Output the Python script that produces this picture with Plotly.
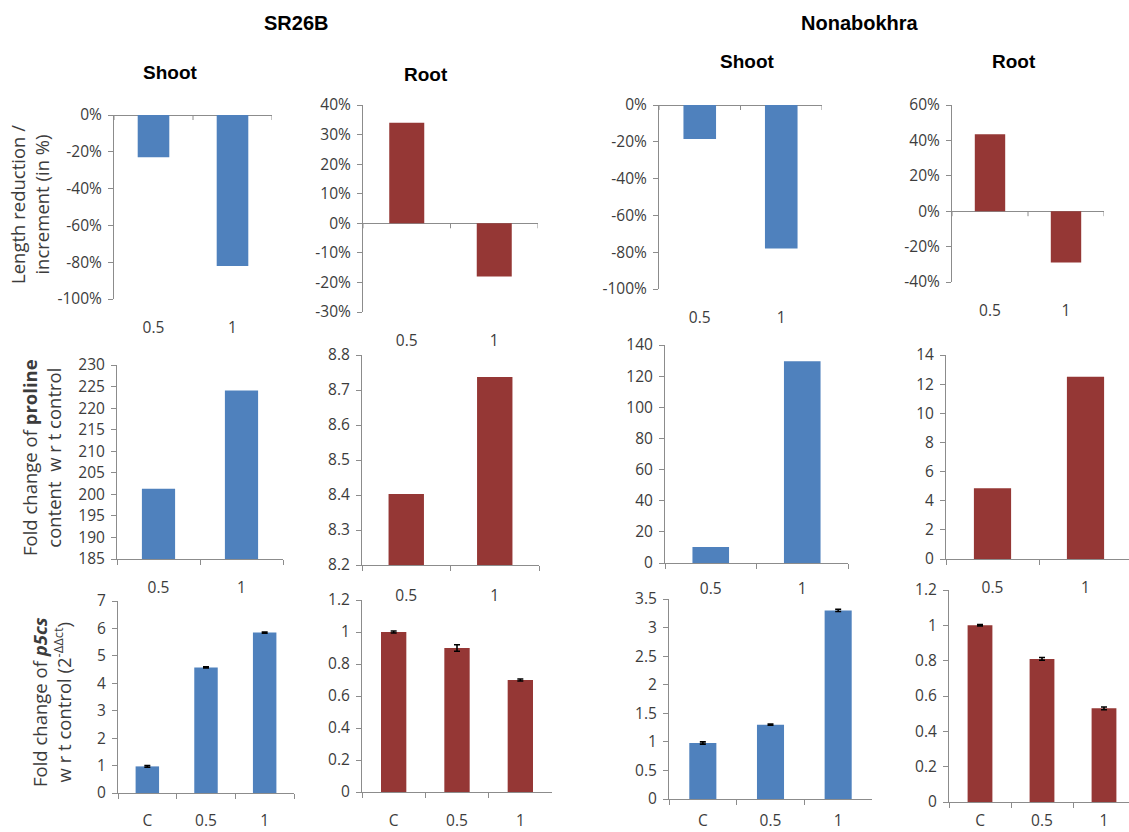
import plotly.graph_objects as go

W, H = 1129, 832

# ---- categories ----
dose = ["0.5", "1"]
dose_c = ["C", "0.5", "1"]

# ---- row 1: length reduction / increment (%) ----
sr_shoot_len = [-23, -82]
sr_root_len = [34, -18]
nb_shoot_len = [-18.5, -78]
nb_root_len = [43.5, -29]

# ---- row 2: fold change of proline content ----
sr_shoot_pro = [201.3, 224.1]
sr_root_pro = [8.403, 8.737]
nb_shoot_pro = [10.3, 129.5]
nb_root_pro = [4.85, 12.5]

# ---- row 3: fold change of p5cs expression ----
sr_shoot_p5 = [0.97, 4.58, 5.85]
sr_shoot_p5_err = [0.03, 0.02, 0.02]
sr_root_p5 = [1.0, 0.90, 0.70]
sr_root_p5_err = [0.006, 0.02, 0.006]
nb_shoot_p5 = [0.98, 1.30, 3.30]
nb_shoot_p5_err = [0.02, 0.01, 0.02]
nb_root_p5 = [1.0, 0.81, 0.53]
nb_root_p5_err = [0.004, 0.008, 0.008]

BLUE = "#4F81BD"
RED = "#953735"
AXIS = "#8C8C8C"
TICKFONT = dict(family="Open Sans, Lato, sans-serif", size=15.5, color="#3C3C3C")

# panel: categories, values, errors, colour, y range, dtick, percent?,
# plot box in pixels (left, right, top, bottom), virtual right end of the
# category axis, gap between axis and category labels
panels = [
    (dose, sr_shoot_len, None, BLUE, (-100, 0), 20, True, (114, 272, 115, 299), None, 17),
    (dose, sr_root_len, None, RED, (-30, 40), 10, True, (363, 538, 105, 312), None, 17),
    (dose, nb_shoot_len, None, BLUE, (-100, 0), 20, True, (659, 822, 105, 289), None, 17),
    (dose, nb_root_len, None, RED, (-40, 60), 20, True, (952, 1104, 105, 282), None, 17),
    (dose, sr_shoot_pro, None, BLUE, (185, 230), 5, False, (117, 283, 365, 559), None, 14),
    (dose, sr_root_pro, None, RED, (8.2, 8.8), 0.1, False, (362, 539, 355, 565), None, 16),
    (dose, nb_shoot_pro, None, BLUE, (0, 140), 20, False, (665, 848, 345, 563), None, 11),
    (dose, nb_root_pro, None, RED, (0, 14), 2, False, (946, 1129, 355, 559), 1132, 14),
    (dose_c, sr_shoot_p5, sr_shoot_p5_err, BLUE, (0, 7), 1, False, (118, 294, 601, 793), None, 13),
    (dose_c, sr_root_p5, sr_root_p5_err, RED, (0, 1.2), 0.2, False, (362, 552, 600, 792), None, 14),
    (dose_c, nb_shoot_p5, nb_shoot_p5_err, BLUE, (0, 3.5), 0.5, False, (669, 872, 599, 799), None, 7),
    (dose_c, nb_root_p5, nb_root_p5_err, RED, (0, 1.2), 0.2, False, (949, 1129, 590, 802), 1135, 4),
]

fig = go.Figure()
layout_axes = {}
shapes = []

for k, (cats, vals, errs, color, yr, dt, pct, box, xend, stand) in enumerate(panels, start=1):
    xa = "x" if k == 1 else f"x{k}"
    ya = "y" if k == 1 else f"y{k}"
    left, right, top, bottom = box
    n = len(cats)
    # category axis range (the axis may run past the page edge)
    end_px = xend if xend else right
    cw = (end_px - left) / n
    xrange_ = [-0.5, -0.5 + (right - left) / cw]

    bar = dict(
        x=cats, y=vals, marker=dict(color=color, line=dict(width=0)),
        width=0.4, xaxis=xa, yaxis=ya, showlegend=False, hoverinfo="x+y",
    )
    if errs is not None:
        bar["error_y"] = dict(type="data", array=errs, visible=True,
                              color="black", thickness=1.6, width=3)
    fig.add_trace(go.Bar(**bar))

    crosses_zero = yr[0] < 0
    xaxis = dict(
        domain=[left / W, right / W], anchor=ya, type="category",
        categoryorder="array", categoryarray=cats, range=xrange_,
        showgrid=False, zeroline=False, tickfont=TICKFONT, automargin=False,
        ticklabelstandoff=stand, fixedrange=True,
    )
    if crosses_zero:
        xaxis.update(showline=False, ticks="")
        # boundary ticks hanging from the zero line
        for i in range(n + 1):
            shapes.append(dict(
                type="line", xref=xa, yref=ya, x0=i - 0.5, x1=i - 0.5,
                ysizemode="pixel", yanchor=0, y0=0, y1=-5,
                line=dict(color=AXIS, width=1),
            ))
    else:
        xaxis.update(showline=True, linecolor=AXIS, linewidth=1, ticks="outside",
                     tickson="boundaries", ticklen=5, tickcolor=AXIS)

    nt = int(round((yr[1] - yr[0]) / dt))
    tv = [round(yr[0] + i * dt, 6) for i in range(nt + 1)]
    yaxis = dict(
        domain=[1 - bottom / H, 1 - top / H], anchor=xa, range=list(yr),
        showgrid=False, showline=True, linecolor=AXIS, linewidth=1,
        ticks="outside", ticklen=5, tickcolor=AXIS, tickfont=TICKFONT,
        tickvals=tv, ticklabelstandoff=3, fixedrange=True, automargin=False,
        zeroline=crosses_zero, zerolinecolor=AXIS, zerolinewidth=1,
    )
    if pct:
        yaxis["ticktext"] = [f"{int(v)}%" for v in tv]
    elif dt == 0.1:
        yaxis["ticktext"] = [f"{v:.1f}" for v in tv]
    elif dt < 1:
        yaxis["ticktext"] = [("%g" % v) for v in tv]
    else:
        yaxis["ticktext"] = [str(int(v)) for v in tv]

    layout_axes["xaxis" if k == 1 else f"xaxis{k}"] = xaxis
    layout_axes["yaxis" if k == 1 else f"yaxis{k}"] = yaxis

TITLE = dict(family="Liberation Sans, Arial, sans-serif", color="black")
YT = dict(family="Open Sans, Lato, sans-serif", size=18.5, color="#3C3C3C")


def ann(text, x, y, font, angle=0):
    return dict(text=text, x=x / W, y=1 - y / H, xref="paper", yref="paper",
                xanchor="center", yanchor="middle", showarrow=False,
                font=font, textangle=angle)


annotations = [
    ann("<b>SR26B</b>", 296, 23, dict(TITLE, size=20)),
    ann("<b>Nonabokhra</b>", 860, 23, dict(TITLE, size=20)),
    ann("<b>Shoot</b>", 170, 73, dict(TITLE, size=19)),
    ann("<b>Root</b>", 426, 74, dict(TITLE, size=19)),
    ann("<b>Shoot</b>", 747, 62, dict(TITLE, size=19)),
    ann("<b>Root</b>", 1014, 62, dict(TITLE, size=19)),
    ann("Length reduction /<br>increment (in %)", 29, 205, YT, -90),
    ann("Fold change of <b>proline</b><br>content  w r t control", 41, 458, YT, -90),
    ann("Fold change of <b><i>p5cs</i></b><br>w r t control (2<sup>-ΔΔct</sup>)", 51, 702, YT, -90),
]

fig.update_layout(
    width=W, height=H,
    margin=dict(l=0, r=0, t=0, b=0, pad=0, autoexpand=False),
    paper_bgcolor="white", plot_bgcolor="white",
    showlegend=False, shapes=shapes, annotations=annotations,
    **layout_axes,
)

fig.write_html("out.html", config={"displayModeBar": False})
